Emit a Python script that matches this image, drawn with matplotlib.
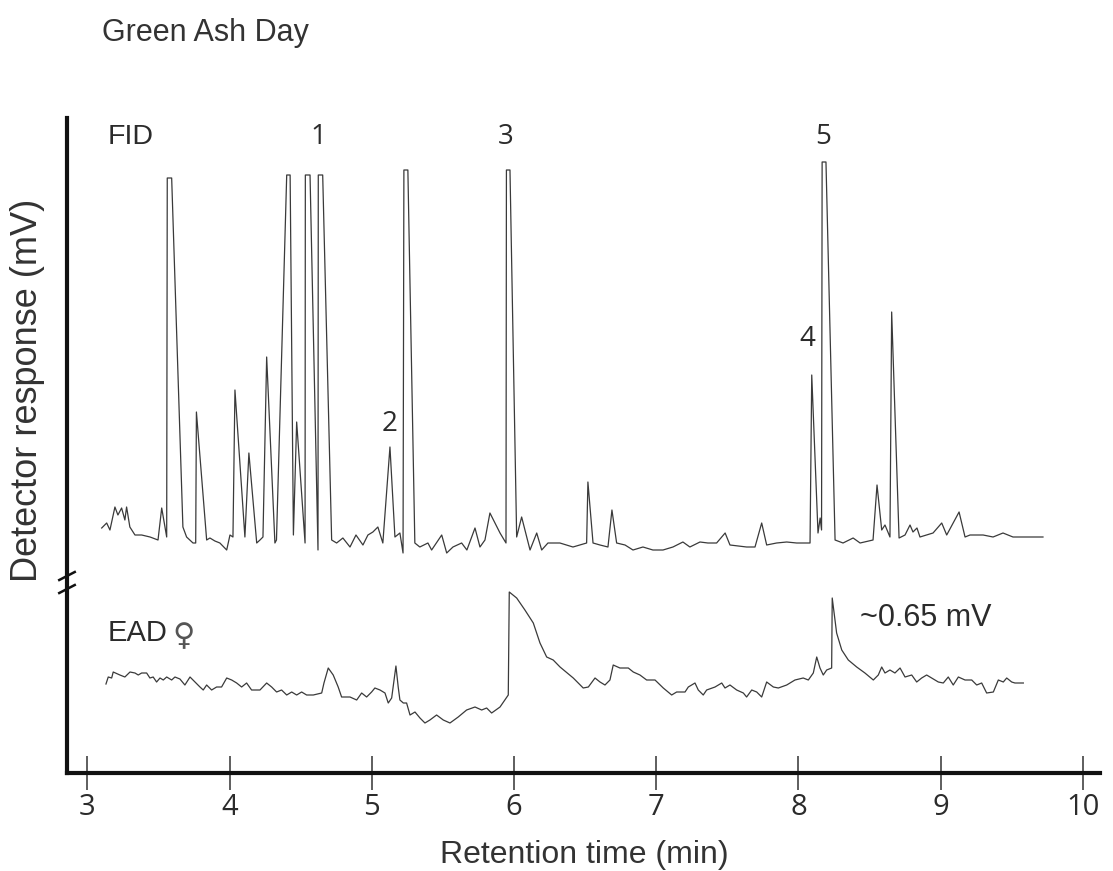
import matplotlib
matplotlib.use("Agg")
import matplotlib.pyplot as plt
import numpy as np

# ---------------- data ----------------
# FID trace: retention time (min) and relative response (arbitrary units, clipped peaks at top)
fid_time = [3.101, 3.136, 3.159, 3.194, 3.215, 3.241, 3.264, 3.276, 3.299, 3.335,
            3.382, 3.441, 3.497, 3.523, 3.558, 3.562, 3.593, 3.672, 3.698, 3.743,
            3.762, 3.767, 3.839, 3.862, 3.897, 3.932, 3.980, 4.003, 4.024, 4.038,
            4.108, 4.136, 4.191, 4.214, 4.235, 4.261, 4.319, 4.330, 4.402, 4.426,
            4.449, 4.472, 4.531, 4.533, 4.566, 4.622, 4.624, 4.655, 4.718, 4.753,
            4.797, 4.847, 4.889, 4.938, 4.973, 5.008, 5.043, 5.078, 5.128, 5.163,
            5.198, 5.220, 5.226, 5.254, 5.303, 5.338, 5.395, 5.421, 5.492, 5.527,
            5.571, 5.632, 5.669, 5.726, 5.761, 5.796, 5.831, 5.902, 5.944, 5.947,
            5.972, 6.019, 6.054, 6.077, 6.113, 6.160, 6.195, 6.239, 6.323, 6.415,
            6.511, 6.520, 6.556, 6.605, 6.661, 6.689, 6.722, 6.781, 6.837, 6.907,
            6.977, 7.048, 7.118, 7.188, 7.237, 7.308, 7.364, 7.425, 7.485, 7.519,
            7.636, 7.695, 7.742, 7.777, 7.847, 7.918, 7.988, 8.082, 8.094, 8.138,
            8.153, 8.163, 8.167, 8.194, 8.258, 8.314, 8.385, 8.434, 8.525, 8.553,
            8.586, 8.609, 8.644, 8.656, 8.708, 8.750, 8.785, 8.806, 8.834, 8.855,
            8.947, 9.008, 9.043, 9.130, 9.172, 9.207, 9.299, 9.369, 9.439, 9.509,
            9.720]
fid_resp = [20, 25, 18, 41, 33, 40, 28, 41, 21, 13,
            13, 11, 8, 40, 11, 370, 370, 21, 11, 5,
            5, 136, 8, 10, 7, 5, -2, 13, 11, 158,
            11, 95, 5, 8, 11, 191, 5, 8, 373, 373,
            13, 126, 5, 373, 373, -2, 373, 373, 8, 5,
            10, 1, 13, 3, 13, 16, 21, 5, 101, 11,
            15, -5, 378, 378, 5, 1, 5, -2, 13, -5,
            1, 5, -2, 20, 1, 8, 35, 15, 5, 378,
            378, 11, 31, 18, -2, 15, -2, 5, 5, 1,
            5, 66, 5, 3, 1, 38, 5, 3, -2, 1,
            -2, -2, 1, 6, 1, 6, 5, 5, 15, 3,
            1, 1, 25, 3, 5, 6, 5, 5, 173, 15,
            30, 18, 386, 386, 8, 5, 10, 5, 8, 63,
            18, 23, 11, 236, 10, 13, 23, 16, 20, 11,
            15, 25, 13, 36, 11, 13, 13, 11, 15, 11,
            11]

# EAD trace (female antenna): retention time (min) and response (relative units, ~92 units = 0.65 mV)
ead_time = [3.131, 3.147, 3.171, 3.182, 3.229, 3.264, 3.300, 3.335, 3.358, 3.382,
            3.417, 3.440, 3.463, 3.487, 3.511, 3.534, 3.558, 3.593, 3.616, 3.651,
            3.686, 3.722, 3.757, 3.792, 3.815, 3.839, 3.874, 3.909, 3.944, 3.980,
            4.015, 4.050, 4.085, 4.120, 4.155, 4.214, 4.261, 4.296, 4.331, 4.366,
            4.402, 4.437, 4.472, 4.507, 4.542, 4.589, 4.648, 4.664, 4.694, 4.729,
            4.764, 4.788, 4.847, 4.894, 4.929, 4.964, 4.999, 5.022, 5.058, 5.093,
            5.116, 5.140, 5.170, 5.186, 5.198, 5.222, 5.245, 5.269, 5.304, 5.339,
            5.374, 5.409, 5.456, 5.503, 5.550, 5.608, 5.667, 5.726, 5.773, 5.808,
            5.843, 5.902, 5.960, 5.967, 6.019, 6.077, 6.136, 6.183, 6.230, 6.276,
            6.324, 6.417, 6.487, 6.523, 6.570, 6.605, 6.640, 6.675, 6.698, 6.745,
            6.804, 6.839, 6.886, 6.933, 6.992, 7.050, 7.109, 7.144, 7.203, 7.226,
            7.273, 7.296, 7.331, 7.355, 7.414, 7.461, 7.484, 7.519, 7.566, 7.613,
            7.636, 7.672, 7.707, 7.742, 7.777, 7.824, 7.859, 7.918, 7.976, 8.034,
            8.070, 8.105, 8.129, 8.152, 8.175, 8.199, 8.234, 8.238, 8.269, 8.305,
            8.351, 8.410, 8.468, 8.527, 8.562, 8.586, 8.609, 8.644, 8.679, 8.715,
            8.750, 8.797, 8.832, 8.867, 8.902, 8.937, 8.984, 9.019, 9.054, 9.089,
            9.125, 9.172, 9.219, 9.254, 9.289, 9.324, 9.371, 9.406, 9.441, 9.465,
            9.500, 9.523, 9.582]
ead_resp = [6, 13, 12, 18, 15, 13, 18, 17, 15, 17,
            17, 12, 13, 8, 12, 10, 13, 10, 13, 11,
            5, 13, 8, 3, 0, 5, 0, 3, 3, 12,
            10, 7, 3, 7, 0, 0, 7, 3, -2, 0,
            -5, -2, -5, -2, -5, -5, -3, 7, 22, 15,
            3, -7, -7, -10, -3, -7, -2, 2, 0, -3,
            -13, -8, 24, 3, -10, -13, -13, -25, -22, -28,
            -33, -30, -25, -30, -33, -27, -20, -17, -20, -18,
            -23, -17, -5, 98, 92, 80, 67, 47, 33, 30,
            23, 12, 2, 3, 12, 8, 5, 10, 25, 22,
            22, 18, 15, 10, 10, 2, -5, -2, -2, 3,
            7, 0, -5, 0, 3, 7, 2, 5, 0, -3,
            -7, 0, -2, -7, 8, 3, 2, 5, 10, 12,
            10, 17, 33, 22, 15, 20, 22, 92, 57, 40,
            30, 23, 17, 10, 15, 23, 17, 20, 17, 22,
            13, 15, 8, 12, 15, 12, 8, 7, 13, 5,
            13, 10, 10, 5, 7, -3, -2, 10, 8, 12,
            8, 7, 7]

# annotations
peak_labels = ["1", "2", "3", "4", "5"]
peak_label_time = [4.622, 5.128, 5.943, 8.060, 8.173]
peak_label_level = [411, 124, 411, 209, 411]   # relative FID units

xticks = [3, 4, 5, 6, 7, 8, 9, 10]
title = "Green Ash Day"
ead_amplitude_label = "~0.65 mV"

# layout offsets (vertical stacking of traces)
FID_OFFSET = 225
EAD_OFFSET = 83

# ---------------- figure ----------------
ARIAL = ["Liberation Sans", "DejaVu Sans"]
MYRIAD = ["Open Sans", "DejaVu Sans"]
trace_color = "#3a3a3a"
text_color = "#2b2b2b"

fig = plt.figure(figsize=(11.13, 8.71), dpi=100)
ax = fig.add_axes([67 / 1113, (871 - 773) / 871, (1100 - 67) / 1113, (773 - 118) / 871])

ax.plot(fid_time, np.array(fid_resp) + FID_OFFSET, color=trace_color, lw=0.9)
ax.plot(ead_time, np.array(ead_resp) + EAD_OFFSET, color=trace_color, lw=0.9)

ax.set_xlim(2.857, 10.121)
ax.set_ylim(0, 655)

for s in ["top", "right"]:
    ax.spines[s].set_visible(False)
for s in ["left", "bottom"]:
    ax.spines[s].set_linewidth(3.0)
    ax.spines[s].set_color("#111111")

ax.set_yticks([])
ax.set_xticks(xticks)
ax.set_xticklabels([str(v) for v in xticks], fontfamily=MYRIAD, fontsize=21, color=text_color)
ax.tick_params(axis="x", direction="inout", length=25, width=1.1, color="#333333", pad=2)

# axis break on the y axis
for yb in (197, 184):
    ax.plot([-0.0075, 0.0075], [yb - 4, yb + 4], transform=ax.get_yaxis_transform(),
            color="#111111", lw=1.8, clip_on=False)

# trace labels
ax.text(3.145, 636, "FID", fontfamily=ARIAL, fontsize=20.5, color=text_color, va="center", ha="left")
ax.text(3.145, 140, "EAD", fontfamily=ARIAL, fontsize=21, color=text_color, va="center", ha="left")
ax.text(3.679, 136, "\u2640", fontfamily=["DejaVu Sans"], fontsize=22, color="#555555",
        va="center", ha="center")
ax.text(8.433, 155, ead_amplitude_label, fontfamily=ARIAL, fontsize=22, color=text_color,
        va="center", ha="left")

for lab, t, lev in zip(peak_labels, peak_label_time, peak_label_level):
    ax.text(t, lev + FID_OFFSET, lab, fontfamily=MYRIAD, fontsize=20, color=text_color,
            ha="center", va="center")

fig.text(102 / 1113, 1 - 33 / 871, title, fontfamily=ARIAL, fontsize=22, color="#333333",
         ha="left", va="center")
fig.text(28 / 1113, 1 - 390 / 871, "Detector response (mV)", fontfamily=ARIAL, fontsize=26,
         color="#333333", rotation=90, ha="center", va="center")
fig.text(584 / 1113, 1 - 855 / 871, "Retention time (min)", fontfamily=ARIAL, fontsize=23,
         color="#333333", ha="center", va="center")

fig.savefig("out.png", dpi=100)
